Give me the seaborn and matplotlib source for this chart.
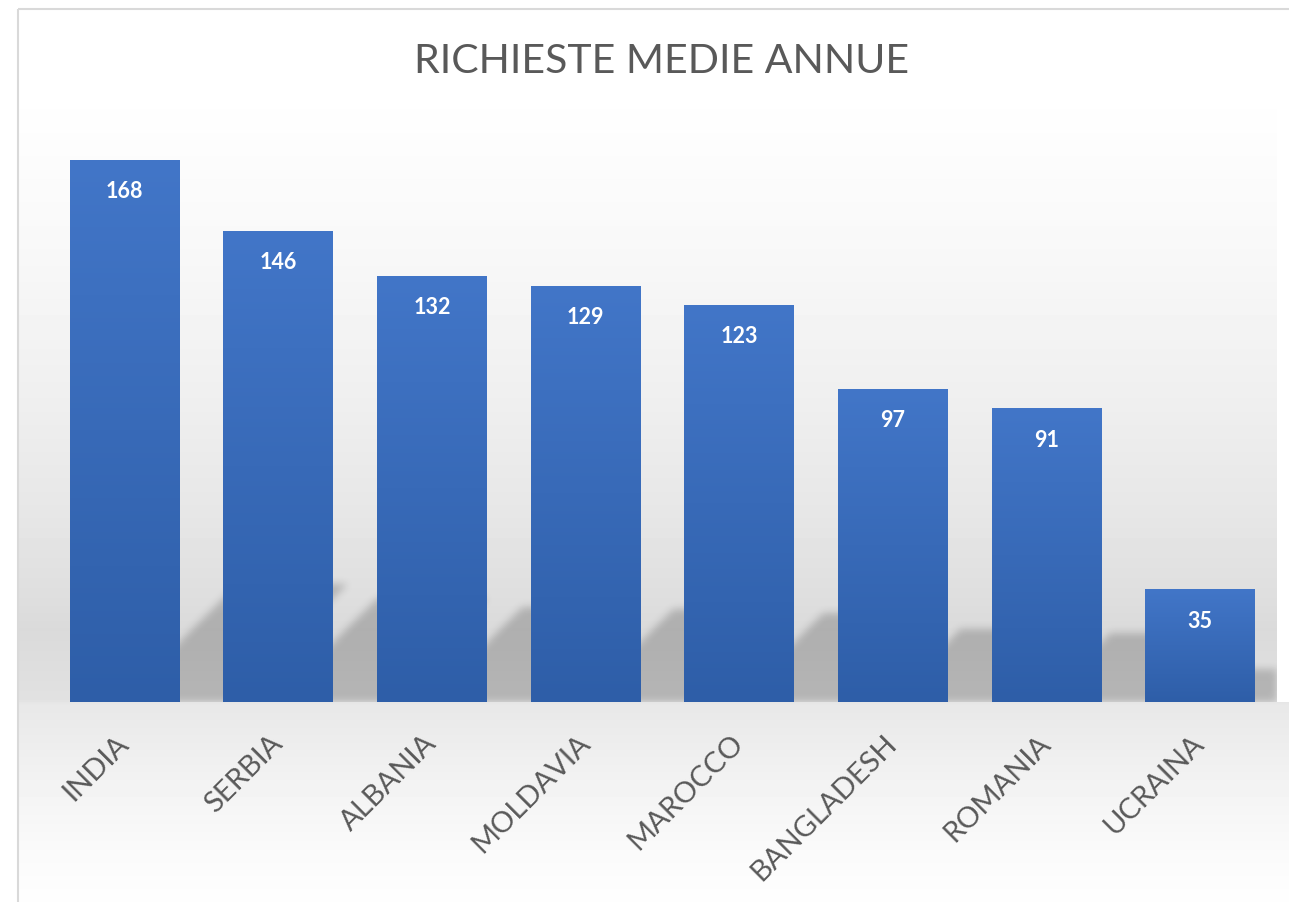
import numpy as np
import matplotlib
matplotlib.use("Agg")
import matplotlib.pyplot as plt
import seaborn as sns
from matplotlib.patches import Rectangle

countries = ["INDIA", "SERBIA", "ALBANIA", "MOLDAVIA", "MAROCCO", "BANGLADESH", "ROMANIA", "UCRAINA"]
richieste = [168, 146, 132, 129, 123, 97, 91, 35]
title = "RICHIESTE MEDIE ANNUE"

sns.set_theme(style="white")
plt.rcParams["font.family"] = ["Lato", "DejaVu Sans"]

W, H = 1289, 903
fig = plt.figure(figsize=(W / 100, H / 100), dpi=100, facecolor="white")

# chart-area background: vertical gray gradient, darkest near the floor
prof_y = [0, 110, 250, 400, 520, 600, 630, 700, 705, 780, 850, 903]
prof_v = [255, 254, 248, 239, 230, 222, 218, 225, 232, 242, 250, 254]
rows = np.interp(np.arange(H), prof_y, prof_v) / 255
bg = np.repeat(rows[:, None], W, axis=1)
bg[:703, 1277:] = 1.0
bg[:, :19] = 1.0
bg[:10, :] = 1.0
bgax = fig.add_axes([0, 0, 1, 1], zorder=0)
bgax.imshow(bg, cmap="gray", vmin=0, vmax=1, aspect="auto", extent=(0, W, H, 0),
            interpolation="bilinear")
bgax.add_patch(Rectangle((18, 9.5), W + 20, H + 20, fill=False, ec="#d9d9d9", lw=1.5))
bgax.set_xlim(0, W)
bgax.set_ylim(H, 0)
bgax.set_axis_off()

ax = fig.add_axes([48 / W, 1 - 703 / H, (1277 - 48) / W, (703 - 122) / H], zorder=1)
ax.patch.set_alpha(0)
sns.barplot(x=countries, y=richieste, color="#3a6bbd", width=0.716, linewidth=0,
            ax=ax, zorder=3)
ax.set_xlim(-0.5, 7.5)
ax.set_ylim(0, 180)
bars = [p for p in ax.patches]

# vertical gradient fill inside each bar
g = np.linspace(0, 1, 256)[:, None, None]
top_c = np.array([66, 118, 200]) / 255
bot_c = np.array([46, 94, 168]) / 255
grad = top_c + (bot_c - top_c) * g
for bar in bars:
    bar.set_edgecolor("none")
    x0, y0, bw, bh = bar.get_x(), bar.get_y(), bar.get_width(), bar.get_height()
    im = ax.imshow(grad, extent=(x0, x0 + bw, y0, y0 + bh), aspect="auto",
                   origin="upper", zorder=3.5)
    im.set_clip_path(bar)

# perspective shadows cast up-right behind the bars
nx, ny = 1229, 581
xs = np.arange(nx)[None, :] + 0.5
hs = np.arange(ny)[:, None] + 0.5
mask = np.zeros((ny, nx))
origin = ax.transData.transform((-0.5, 0))
for bar in bars:
    (px0, _), (px1, py1) = ax.transData.transform(
        [(bar.get_x(), 0), (bar.get_x() + bar.get_width(), bar.get_height())]) - origin
    hs_max = 0.2 * py1 + 10
    xb = xs - hs - 50
    cond = (hs <= hs_max) & (xb >= px0) & (xb <= px1)
    mask = np.maximum(mask, cond)
k = np.exp(-0.5 * (np.arange(-12, 13) / 4.0) ** 2)
k /= k.sum()
mask = np.apply_along_axis(lambda r: np.convolve(r, k, mode="same"), 1, mask)
mask = np.apply_along_axis(lambda c: np.convolve(c, k, mode="same"), 0, mask)
shadow = np.zeros((ny, nx, 4))
shadow[..., 3] = 0.2 * mask
ax.imshow(shadow, extent=(-0.5, 7.5, 0, 180), origin="lower", aspect="auto", zorder=2)
ax.set_xlim(-0.5, 7.5)
ax.set_ylim(0, 180)

for bar, val in zip(bars, richieste):
    ax.annotate(str(val), (bar.get_x() + bar.get_width() / 2, bar.get_height()),
                xytext=(0, -31), textcoords="offset pixels", ha="center", va="center",
                color="white", fontweight="bold", fontsize=15.5, zorder=5)

ax.set_xticks(range(len(countries)))
ax.set_xticklabels(countries, rotation=45, ha="right", va="center",
                   rotation_mode="anchor", fontsize=21, color="#595959")
ax.tick_params(axis="x", length=0, pad=26)
ax.set_yticks([])
ax.set_xlabel("")
ax.set_ylabel("")
sns.despine(ax=ax, left=True, bottom=True)

fig.text(662 / W, 1 - 73 / H, title, ha="center", va="baseline", fontsize=29.5, color="#595959")

fig.savefig("out.png", dpi=100)
